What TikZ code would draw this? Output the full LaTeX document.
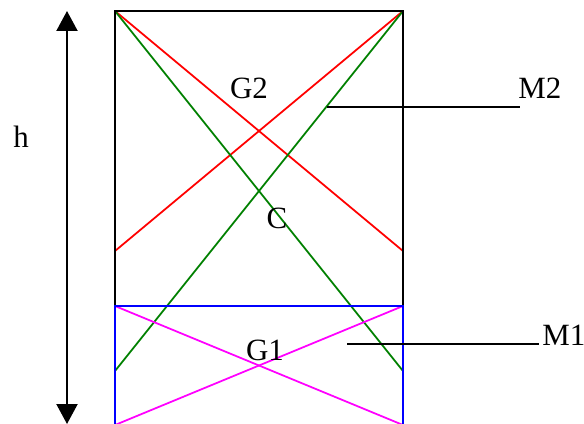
\documentclass[tikz,border=0pt]{standalone}
\usepackage{fontspec}
\setmainfont{Liberation Serif}
\usetikzlibrary{arrows.meta}
\definecolor{pinkline}{RGB}{255,0,255}
\definecolor{greenline}{RGB}{0,128,0}

\begin{document}
\begin{tikzpicture}[x=0.02cm,y=-0.02cm,font=\fontsize{17.6}{20}\selectfont]
\useasboundingbox (0,0) rectangle (584,423);
\clip (0,0) rectangle (584,423);

\coordinate (tl) at (115,11);
\coordinate (tr) at (403,11);
\coordinate (ml) at (115,306);
\coordinate (mr) at (403,306);
\coordinate (bl) at (115,425);
\coordinate (br) at (403,425);
\coordinate (redl) at (115,251);
\coordinate (redr) at (403,251);
\coordinate (grnl) at (115,371);
\coordinate (grnr) at (403,371);

\begin{scope}[line width=1pt]
\draw[red] (tl) -- (redr);
\draw[red] (tr) -- (redl);
\draw[greenline] (tl) -- (grnr);
\draw[greenline] (tr) -- (grnl);
\draw[pinkline] (ml) -- (br);
\draw[pinkline] (mr) -- (bl);
\end{scope}

\begin{scope}[line width=1.2pt]
\draw (ml) -- (tl) -- (tr) -- (mr);
\draw[blue] (bl) -- (ml) -- (mr) -- (br);
\end{scope}

% height
\coordinate (htop) at (67,11);
\coordinate (hbot) at (67,424);
\draw[line width=1.2pt,{Triangle[width=0.42cm,length=0.4cm]}-{Triangle[width=0.42cm,length=0.4cm]}] (htop) -- (hbot);
\node[anchor=base] (hlab) at (21,147) {h};

\node[anchor=base] (g2) at (249,98) {G2};
\node[anchor=base] (cc) at (277,228) {C};
\node[anchor=base] (g1) at (265,360) {G1};

\node[anchor=base west,inner sep=0] (m2) at (518,98) {M2};
\node[anchor=base west,inner sep=0] (m1) at (542,345) {M1};

\begin{scope}[line width=1.2pt]
\coordinate (m2a) at (327,107);
\coordinate (m1a) at (347,344);
\draw (m2a) -- ([xshift=0.04cm]m2a -| m2.west);
\draw (m1a) -- ([xshift=-0.06cm]m1a -| m1.west);
\end{scope}

\end{tikzpicture}
\end{document}
